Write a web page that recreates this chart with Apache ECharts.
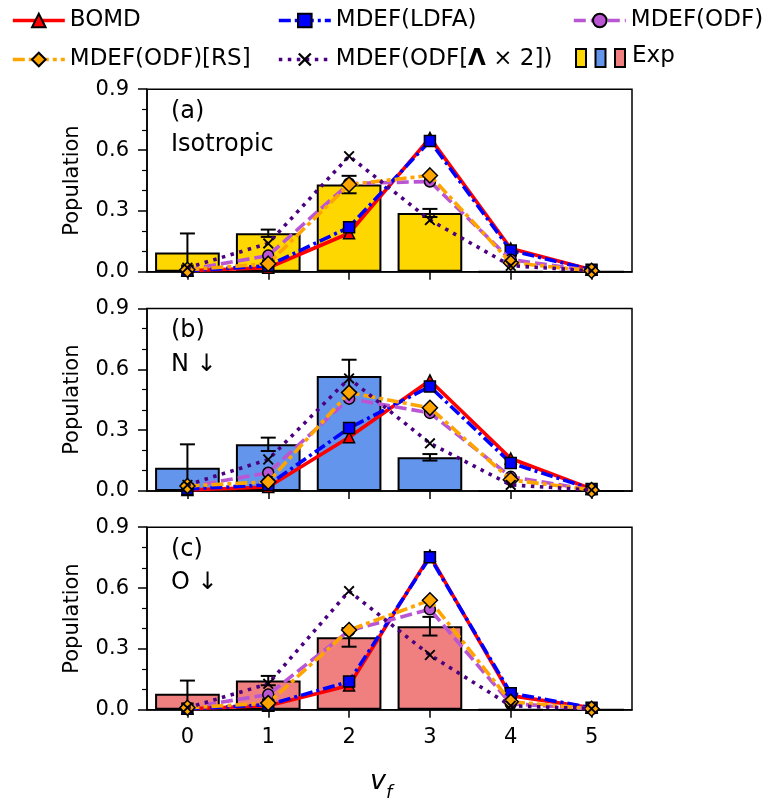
<!DOCTYPE html>
<html>
<head>
<meta charset="utf-8">
<script src="https://cdn.jsdelivr.net/npm/echarts@6/dist/echarts.min.js"></script>
<style>
  html, body { margin: 0; padding: 0; background: #fff; }
  #chart { width: 772px; height: 802px; }
</style>
</head>
<body>
<div id="chart"></div>
<script>
// Final vibrational state v_f
const vf = ['0', '1', '2', '3', '4', '5'];
const yTicks = [0, 0.3, 0.6, 0.9];

// (a) Isotropic
const bomdA = [0.005, 0.02, 0.19, 0.66, 0.115, 0.01];
const ldfaA = [0.005, 0.03, 0.22, 0.645, 0.105, 0.01];
const odfA  = [0.01, 0.08, 0.435, 0.445, 0.06, 0.005];
const rsA   = [0.01, 0.04, 0.43, 0.475, 0.045, 0.005];
const x2A   = [0.02, 0.14, 0.57, 0.255, 0.03, 0.005];
const expA  = [0.095, 0.19, 0.43, 0.29, 0, 0];
const errA  = [0.094, 0.018, 0.043, 0.02, 0, 0];

// (b) N down
const bomdB = [0.005, 0.02, 0.265, 0.545, 0.16, 0.01];
const ldfaB = [0.01, 0.03, 0.31, 0.515, 0.138, 0.01];
const odfB  = [0.02, 0.09, 0.455, 0.385, 0.07, 0.005];
const rsB   = [0.025, 0.045, 0.485, 0.41, 0.055, 0.005];
const x2B   = [0.03, 0.155, 0.555, 0.235, 0.03, 0.005];
const expB  = [0.115, 0.23, 0.567, 0.166, 0, 0];
const errB  = [0.115, 0.033, 0.08, 0.016, 0, 0];

// (c) O down
const bomdC = [0.005, 0.02, 0.12, 0.76, 0.07, 0.01];
const ldfaC = [0.005, 0.025, 0.139, 0.752, 0.082, 0.01];
const odfC  = [0.01, 0.075, 0.39, 0.495, 0.03, 0.005];
const rsC   = [0.01, 0.033, 0.393, 0.54, 0.04, 0.005];
const x2C   = [0.01, 0.128, 0.585, 0.27, 0.02, 0.005];
const expC  = [0.079, 0.144, 0.357, 0.412, 0, 0];
const errC  = [0.065, 0.023, 0.046, 0.046, 0, 0];

const panelTags   = ['(a)', '(b)', '(c)'];
const panelTitles = ['Isotropic', 'N \u2193', 'O \u2193'];
const barColors   = ['#FFD700', '#6495ED', '#F08080'];

const NAMES = {
  bomd: 'BOMD',
  ldfa: 'MDEF(LDFA)',
  odf: 'MDEF(ODF)',
  rs: 'MDEF(ODF)[RS]',
  x2: 'MDEF(ODF[\u039B \u00D7 2])'
};

const panels = [
  { bomd: bomdA, ldfa: ldfaA, odf: odfA, rs: rsA, x2: x2A, exp: expA, err: errA },
  { bomd: bomdB, ldfa: ldfaB, odf: odfB, rs: rsB, x2: x2B, exp: expB, err: errB },
  { bomd: bomdC, ldfa: ldfaC, odf: odfC, rs: rsC, x2: x2C, exp: expC, err: errC }
];

const FONT = 'DejaVu Sans';
const gridTops = [89.2, 308.4, 527.2];
const gridH = 182.6;
const gridLeft = 147;
const gridRight = 140;
const LINE_W = 3.6;

const crossPath = 'path://M0,1.2L1.2,0L5,3.8L8.8,0L10,1.2L6.2,5L10,8.8L8.8,10L5,6.2L1.2,10L0,8.8L3.8,5Z';

const lineDefs = [
  { key: 'bomd', color: '#FF0000', type: 'solid', symbol: 'triangle', size: 11, fill: '#FF0000', border: 1.5 },
  { key: 'ldfa', color: '#0000FF', type: [12, 4, 3, 4], symbol: 'rect', size: 11, fill: '#0000FF', border: 1.5 },
  { key: 'odf',  color: '#BA55D3', type: [12, 5], symbol: 'circle', size: 11, fill: '#BA55D3', border: 1.5 },
  { key: 'rs',   color: '#FFA500', type: [12, 4, 4, 4], symbol: 'diamond', size: 15, fill: '#FFA500', border: 1.5 },
  { key: 'x2',   color: '#4B0082', type: [3.5, 5.5], symbol: crossPath, size: 11, fill: '#000000', border: 0 }
];

function errorBarItem(params, api) {
  const i = api.value(0), v = api.value(1), e = api.value(2);
  if (!e) return null;
  const top = api.coord([i, v + e]);
  const bot = api.coord([i, v - e]);
  const hw = 7.5;
  const style = { stroke: '#000', lineWidth: 2 };
  return {
    type: 'group',
    children: [
      { type: 'line', shape: { x1: top[0], y1: top[1], x2: bot[0], y2: bot[1] }, style },
      { type: 'line', shape: { x1: top[0] - hw, y1: top[1], x2: top[0] + hw, y2: top[1] }, style },
      { type: 'line', shape: { x1: bot[0] - hw, y1: bot[1], x2: bot[0] + hw, y2: bot[1] }, style }
    ]
  };
}

const grid = [], xAxis = [], yAxis = [], series = [], graphic = [];

panels.forEach((p, k) => {
  grid.push({
    left: gridLeft, right: gridRight, top: gridTops[k], height: gridH,
    show: true, borderColor: '#000', borderWidth: 1.5, backgroundColor: 'transparent'
  });
  const last = k === panels.length - 1;
  xAxis.push({
    type: 'category', gridIndex: k, data: vf, boundaryGap: true,
    axisLine: { lineStyle: { color: '#000', width: 1.5 } },
    axisTick: { show: true, alignWithLabel: true, inside: false, length: 8, lineStyle: { color: '#000', width: 1.5 } },
    axisLabel: { show: last, color: '#000', fontFamily: FONT, fontSize: 21, margin: 17 },
    splitLine: { show: false }
  });
  yAxis.push({
    type: 'value', gridIndex: k, min: yTicks[0], max: yTicks[yTicks.length - 1], interval: yTicks[1] - yTicks[0],
    name: 'Population', nameLocation: 'middle', nameGap: 64,
    nameTextStyle: { color: '#000', fontFamily: FONT, fontSize: 21 },
    axisLine: { show: true, lineStyle: { color: '#000', width: 1.5 } },
    axisTick: { show: true, inside: false, length: 9, lineStyle: { color: '#000', width: 1.5 } },
    minorTick: { show: true, splitNumber: 3, length: 5, lineStyle: { color: '#000', width: 1.2 } },
    axisLabel: { color: '#000', fontFamily: FONT, fontSize: 21, margin: 18, formatter: v => v.toFixed(1) },
    splitLine: { show: false }, minorSplitLine: { show: false }
  });

  series.push({
    name: 'Exp', type: 'bar', xAxisIndex: k, yAxisIndex: k, data: p.exp,
    barWidth: '80%',
    itemStyle: { color: barColors[k], borderColor: '#000', borderWidth: 2 },
    z: 1, silent: true
  });
  series.push({
    name: 'Exp err', type: 'custom', xAxisIndex: k, yAxisIndex: k,
    data: p.exp.map((v, i) => [i, v, p.err[i]]),
    encode: { x: 0, y: 1 },
    renderItem: errorBarItem, z: 2, silent: true
  });
  lineDefs.forEach((d, j) => {
    series.push({
      name: NAMES[d.key], type: 'line', xAxisIndex: k, yAxisIndex: k, data: p[d.key],
      symbol: d.symbol, symbolSize: d.size, showSymbol: true,
      lineStyle: { color: d.color, width: LINE_W, type: d.type },
      itemStyle: { color: d.fill, borderColor: '#000', borderWidth: d.border },
      z: 3 + j, silent: true
    });
  });

  graphic.push({
    type: 'text', left: 171, top: gridTops[k] + 10.6, z: 100,
    style: { text: panelTags[k], font: '24px "DejaVu Sans"', fill: '#000' }
  });
  graphic.push({
    type: 'text', left: 171, top: gridTops[k] + 44, z: 100,
    style: { text: panelTitles[k], font: '24px "DejaVu Sans"', fill: '#000' }
  });
});

// x-axis title v_f
graphic.push({
  type: 'text', left: 370, top: 768,
  style: { text: 'v', font: 'italic 27px "DejaVu Sans"', fill: '#000' }
});
graphic.push({
  type: 'text', left: 386, top: 784,
  style: { text: 'f', font: 'italic 18px "DejaVu Sans"', fill: '#000' }
});

// "Exp" legend entry: one swatch per panel colour
barColors.forEach((c, i) => {
  graphic.push({
    type: 'rect', shape: { x: 576 + i * 19.5, y: 49, width: 10, height: 18 },
    style: { fill: c, stroke: '#000', lineWidth: 2 }
  });
});
graphic.push({
  type: 'text', left: 632, top: 45,
  style: { text: 'Exp', font: '23px "DejaVu Sans"', fill: '#000' }
});

const legendText = { color: '#000', fontFamily: FONT, fontSize: 23, rich: { b: { fontWeight: 'bold', fontFamily: FONT, fontSize: 23 } } };
function mkLegend(name, left, top) {
  return {
    data: [name], left, top, orient: 'horizontal', itemWidth: 52, itemHeight: 17, itemGap: 0,
    padding: 0, textStyle: legendText, selectedMode: false,
    lineStyle: { width: LINE_W },
    formatter: n => n.replace('\u039B', '{b|\u039B}')
  };
}

const option = {
  animation: false,
  backgroundColor: '#fff',
  grid, xAxis, yAxis, series, graphic,
  legend: [
    mkLegend(NAMES.bomd, 11, 9),
    mkLegend(NAMES.ldfa, 277, 9),
    mkLegend(NAMES.odf, 572, 9),
    mkLegend(NAMES.rs, 11, 48),
    mkLegend(NAMES.x2, 277, 48)
  ]
};

const chart = echarts.init(document.getElementById('chart'), null, { renderer: 'canvas' });
chart.setOption(option);
</script>
</body>
</html>
